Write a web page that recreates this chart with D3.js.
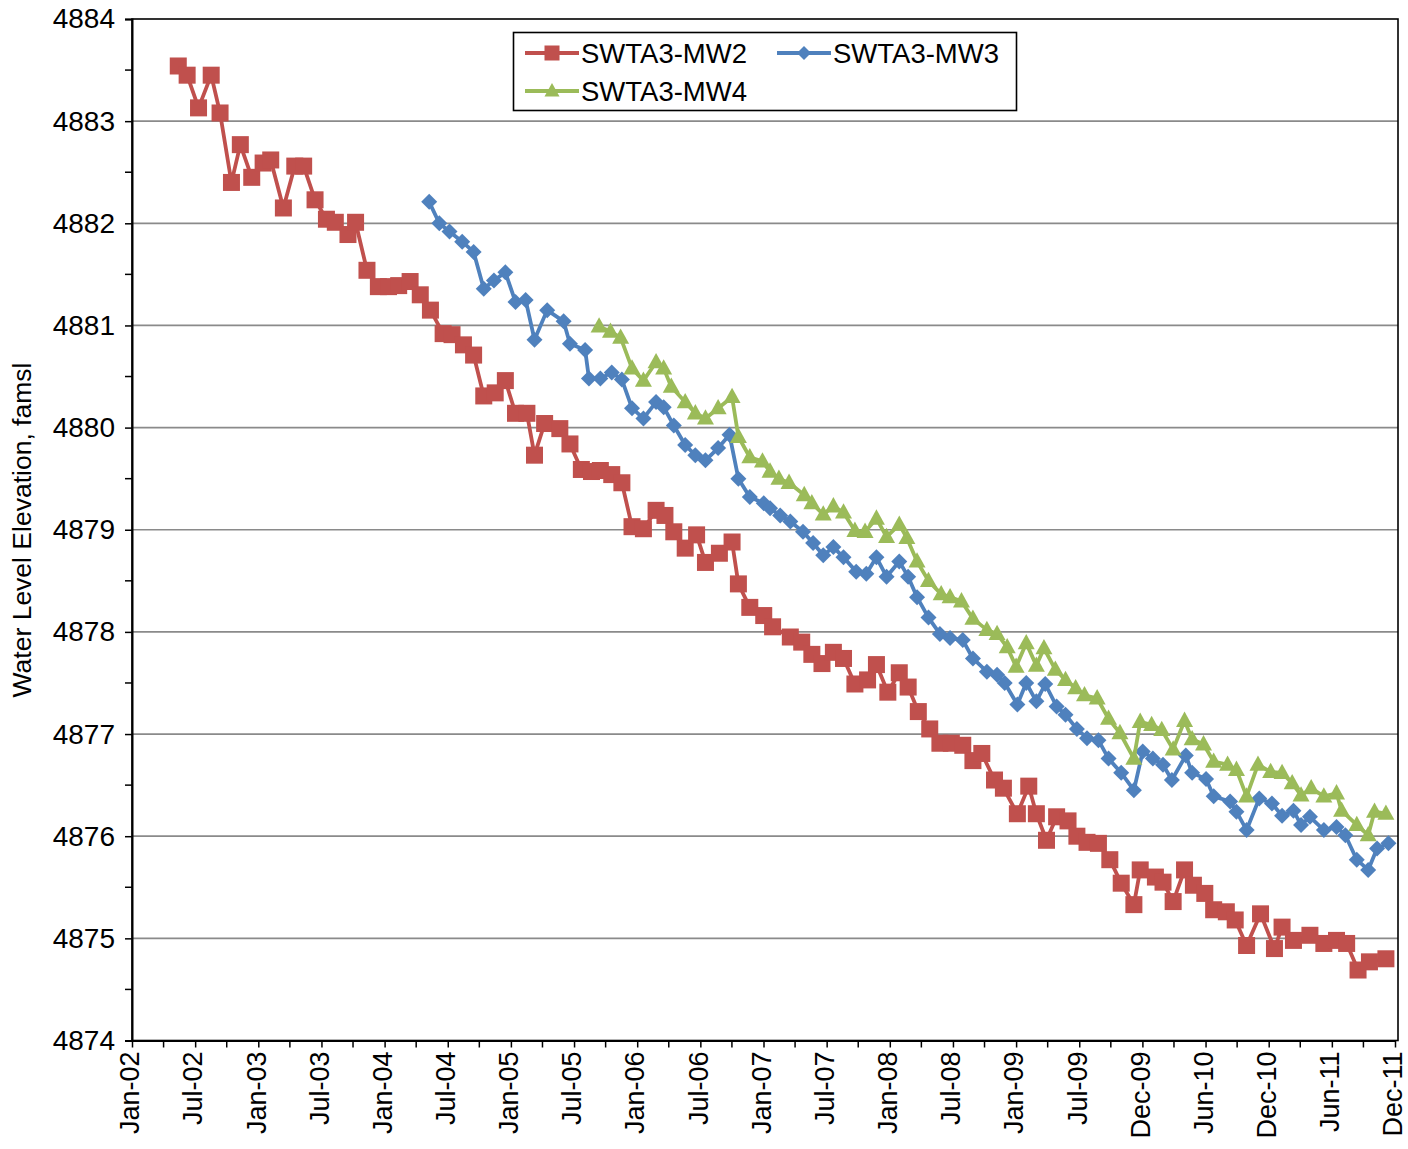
<!DOCTYPE html>
<html><head><meta charset="utf-8">
<script src="https://cdn.jsdelivr.net/npm/d3@7"></script>
<style>
body{margin:0;background:#fff}
text{font-family:Arial,"Liberation Sans",sans-serif;fill:#000}
</style>
</head><body>
<svg id="chart" width="1408" height="1149"></svg>
<script>
// ---------------- DATA ----------------
const xTickLabels = ["Jan-02","Jul-02","Jan-03","Jul-03","Jan-04","Jul-04","Jan-05","Jul-05","Jan-06","Jul-06","Jan-07","Jul-07","Jan-08","Jul-08","Jan-09","Jul-09","Dec-09","Jun-10","Dec-10","Jun-11","Dec-11"];
const yTicks = [4874,4875,4876,4877,4878,4879,4880,4881,4882,4883,4884];
const seriesNames = ["SWTA3-MW2","SWTA3-MW3","SWTA3-MW4"];

// sample times as decimal years
const mw2Years = [2002.39,2002.46,2002.55,2002.65,2002.72,2002.81,2002.88,2002.97,2003.06,2003.12,
2003.22,2003.31,2003.38,2003.47,2003.56,2003.63,2003.73,2003.79,2003.88,2003.97,
2004.05,2004.13,2004.22,2004.30,2004.38,2004.48,2004.55,2004.64,2004.72,2004.80,
2004.89,2004.97,2005.05,2005.14,2005.20,2005.28,2005.40,2005.48,2005.57,2005.65,
2005.72,2005.81,2005.89,2005.97,2006.06,2006.16,2006.23,2006.30,2006.39,2006.48,
2006.55,2006.66,2006.76,2006.81,2006.90,2007.01,2007.08,2007.22,2007.31,2007.39,
2007.47,2007.56,2007.64,2007.73,2007.83,2007.90,2007.99,2008.08,2008.15,2008.23,
2008.32,2008.40,2008.49,2008.58,2008.66,2008.73,2008.83,2008.90,2009.01,2009.10,
2009.16,2009.24,2009.32,2009.41,2009.48,2009.56,2009.65,2009.74,2009.83,2009.93,
2009.98,2010.10,2010.16,2010.24,2010.33,2010.40,2010.49,2010.56,2010.66,2010.73,
2010.82,2010.93,2011.04,2011.10,2011.19,2011.32,2011.43,2011.53,2011.61,2011.70,
2011.79,2011.92];
const mw2Levels = [4883.54,4883.45,4883.13,4883.45,4883.08,4882.40,4882.77,4882.45,4882.59,4882.62,
4882.15,4882.56,4882.56,4882.23,4882.04,4882.01,4881.89,4882.01,4881.54,4881.38,
4881.38,4881.39,4881.43,4881.30,4881.15,4880.92,4880.91,4880.81,4880.71,4880.31,
4880.34,4880.46,4880.14,4880.14,4879.73,4880.04,4879.99,4879.84,4879.59,4879.57,
4879.58,4879.54,4879.46,4879.03,4879.01,4879.19,4879.14,4878.98,4878.82,4878.95,
4878.68,4878.77,4878.88,4878.47,4878.24,4878.16,4878.05,4877.95,4877.90,4877.78,
4877.69,4877.80,4877.74,4877.49,4877.53,4877.68,4877.41,4877.60,4877.46,4877.22,
4877.05,4876.91,4876.91,4876.89,4876.74,4876.81,4876.55,4876.47,4876.22,4876.49,
4876.22,4875.96,4876.19,4876.15,4876.00,4875.94,4875.93,4875.77,4875.54,4875.33,
4875.67,4875.60,4875.55,4875.36,4875.67,4875.52,4875.44,4875.28,4875.26,4875.18,
4874.93,4875.24,4874.90,4875.11,4874.98,4875.03,4874.95,4874.98,4874.95,4874.69,
4874.77,4874.80];

const mw3Years = [2004.37,2004.45,2004.53,2004.63,2004.72,2004.80,2004.88,2004.97,2005.05,2005.13,
2005.20,2005.30,2005.43,2005.48,2005.60,2005.63,2005.72,2005.81,2005.89,2005.97,
2006.06,2006.16,2006.22,2006.30,2006.39,2006.47,2006.55,2006.65,2006.74,2006.81,
2006.90,2007.01,2007.06,2007.14,2007.22,2007.32,2007.40,2007.48,2007.56,2007.64,
2007.74,2007.82,2007.90,2007.98,2008.08,2008.15,2008.22,2008.31,2008.40,2008.48,
2008.58,2008.66,2008.77,2008.85,2008.91,2009.01,2009.08,2009.16,2009.23,2009.32,
2009.39,2009.48,2009.56,2009.65,2009.73,2009.83,2009.93,2010.00,2010.08,2010.16,
2010.23,2010.34,2010.39,2010.50,2010.56,2010.69,2010.74,2010.82,2010.92,2011.02,
2011.10,2011.19,2011.25,2011.32,2011.43,2011.53,2011.60,2011.69,2011.78,2011.85,
2011.94];
const mw3Levels = [4882.21,4882.00,4881.92,4881.82,4881.72,4881.36,4881.44,4881.52,4881.23,4881.25,
4880.86,4881.15,4881.04,4880.82,4880.76,4880.48,4880.48,4880.54,4880.47,4880.19,
4880.09,4880.25,4880.20,4880.02,4879.83,4879.73,4879.68,4879.80,4879.93,4879.50,
4879.32,4879.26,4879.21,4879.14,4879.08,4878.98,4878.87,4878.75,4878.83,4878.73,
4878.59,4878.57,4878.73,4878.54,4878.69,4878.54,4878.34,4878.14,4877.98,4877.94,
4877.92,4877.74,4877.61,4877.58,4877.50,4877.29,4877.50,4877.32,4877.49,4877.27,
4877.19,4877.05,4876.96,4876.94,4876.76,4876.62,4876.45,4876.83,4876.76,4876.70,
4876.55,4876.79,4876.62,4876.56,4876.39,4876.34,4876.24,4876.06,4876.37,4876.32,
4876.20,4876.25,4876.11,4876.19,4876.06,4876.09,4876.01,4875.77,4875.67,4875.88,
4875.93];

const mw4Years = [2005.71,2005.80,2005.88,2005.97,2006.06,2006.16,2006.22,2006.28,2006.39,2006.47,
2006.55,2006.65,2006.76,2006.81,2006.90,2007.00,2007.06,2007.13,2007.21,2007.33,
2007.39,2007.48,2007.56,2007.64,2007.73,2007.81,2007.90,2007.98,2008.08,2008.14,
2008.22,2008.31,2008.41,2008.48,2008.57,2008.66,2008.77,2008.85,2008.93,2009.00,
2009.08,2009.16,2009.22,2009.31,2009.39,2009.47,2009.54,2009.64,2009.73,2009.82,
2009.93,2009.98,2010.07,2010.15,2010.24,2010.33,2010.39,2010.48,2010.56,2010.67,
2010.74,2010.82,2010.91,2011.01,2011.10,2011.18,2011.25,2011.33,2011.43,2011.53,
2011.57,2011.69,2011.78,2011.83,2011.92];
const mw4Levels = [4880.99,4880.94,4880.88,4880.58,4880.46,4880.64,4880.58,4880.40,4880.25,4880.14,
4880.09,4880.19,4880.30,4879.91,4879.71,4879.67,4879.57,4879.50,4879.46,4879.34,
4879.26,4879.15,4879.23,4879.17,4878.99,4878.98,4879.11,4878.93,4879.05,4878.92,
4878.69,4878.50,4878.37,4878.34,4878.30,4878.13,4878.02,4877.98,4877.85,4877.66,
4877.89,4877.67,4877.84,4877.63,4877.53,4877.45,4877.38,4877.35,4877.15,4877.01,
4876.76,4877.12,4877.09,4877.04,4876.85,4877.13,4876.95,4876.90,4876.73,4876.70,
4876.65,4876.39,4876.70,4876.63,4876.62,4876.52,4876.40,4876.47,4876.39,4876.42,
4876.25,4876.11,4876.01,4876.24,4876.22];

// ---------------- CHART ----------------
function yearToDate(y){
  const yr = Math.floor(y);
  const s = new Date(yr,0,1), e = new Date(yr+1,0,1);
  return new Date(+s + (y-yr)*(e-s));
}
const axisStart = new Date(2002,0,10);
const stepDays = 182;
const axisEnd = d3.timeDay.offset(axisStart, stepDays*20);

const L = 132, R = 1398, T = 19, B = 1040.5;
const FONT = "Arial, 'Liberation Sans', sans-serif";
const svg = d3.select("#chart");
const x = d3.scaleTime().domain([axisStart, axisEnd]).range([L, 1395]);
const y = d3.scaleLinear().domain([4874,4884]).range([B, T]);

const colors = ["#C0504D","#4F81BD","#9BBB59"];
const series = [
  {name:seriesNames[0], color:colors[0], shape:"square",   pts:mw2Years.map((d,i)=>({date:yearToDate(d), v:mw2Levels[i]}))},
  {name:seriesNames[1], color:colors[1], shape:"diamond",  pts:mw3Years.map((d,i)=>({date:yearToDate(d), v:mw3Levels[i]}))},
  {name:seriesNames[2], color:colors[2], shape:"triangle", pts:mw4Years.map((d,i)=>({date:yearToDate(d), v:mw4Levels[i]}))}
];

// gridlines
svg.append("g").selectAll("line").data(yTicks.filter(t=>t>4874 && t<4884)).join("line")
  .attr("x1",L).attr("x2",R).attr("y1",d=>y(d)).attr("y2",d=>y(d))
  .attr("stroke","#8a8a8a").attr("stroke-width",1.7);

// plot border
svg.append("rect").attr("x",L).attr("y",T).attr("width",R-L).attr("height",B-T)
  .attr("fill","none").attr("stroke","#000").attr("stroke-width",1.6);

// y axis
const yMinor = d3.range(4874.5,4884,1);
const yAxis = d3.axisLeft(y).tickValues(yTicks).tickFormat(d3.format("d")).tickSize(7).tickPadding(10);
const gy = svg.append("g").attr("transform",`translate(${L},0)`).call(yAxis);
gy.select(".domain").attr("stroke","#000").attr("stroke-width",2);
gy.selectAll(".tick line").attr("stroke","#000").attr("stroke-width",1.5);
gy.selectAll(".tick text").attr("font-size",28).attr("font-family",FONT);
svg.append("g").selectAll("line").data(yMinor).join("line")
  .attr("x1",L-7).attr("x2",L).attr("y1",d=>y(d)).attr("y2",d=>y(d))
  .attr("stroke","#000").attr("stroke-width",1.5);

// x axis
const xTickDates = d3.range(21).map(k=>d3.timeDay.offset(axisStart, k*stepDays));
const xMinorDates = d3.range(20).map(k=>d3.timeDay.offset(axisStart, k*stepDays + stepDays/2));
const xAxis = d3.axisBottom(x).tickValues(xTickDates).tickFormat((d,i)=>xTickLabels[i]).tickSize(7).tickSizeOuter(0);
const gx = svg.append("g").attr("transform",`translate(0,${B})`).call(xAxis);
gx.select(".domain").attr("stroke","#000").attr("stroke-width",2);
gx.selectAll(".tick line").attr("stroke","#000").attr("stroke-width",1.5);
gx.selectAll(".tick text")
  .attr("font-size",27).attr("font-family",FONT)
  .attr("text-anchor","end").attr("transform","rotate(-90)")
  .attr("x",-11).attr("y",0).attr("dy","0.25em");
svg.append("g").selectAll("line").data(xMinorDates).join("line")
  .attr("x1",d=>x(d)).attr("x2",d=>x(d)).attr("y1",B).attr("y2",B+7)
  .attr("stroke","#000").attr("stroke-width",1.5);

// y title
svg.append("text").attr("transform","translate(22,530) rotate(-90)")
  .attr("text-anchor","middle").attr("dy","0.35em").attr("font-size",26.5)
  .attr("font-family",FONT)
  .text("Water Level Elevation, famsl");

// markers
function marker(g, shape, color, size){
  if(shape==="square"){
    g.append("rect").attr("x",-size/2).attr("y",-size/2).attr("width",size).attr("height",size).attr("fill",color);
  } else if(shape==="diamond"){
    const h=size/2;
    g.append("path").attr("d",`M0,${-h}L${h},0L0,${h}L${-h},0Z`).attr("fill",color);
  } else {
    const w=size/2, hh=size*0.9;
    g.append("path").attr("d",`M0,${-hh*0.6}L${w},${hh*0.4}L${-w},${hh*0.4}Z`).attr("fill",color);
  }
}
const line = d3.line().x(d=>x(d.date)).y(d=>y(d.v));
const markerSize = {square:17, diamond:16, triangle:17};
series.forEach(s=>{
  const g = svg.append("g");
  g.append("path").datum(s.pts).attr("d",line).attr("fill","none")
    .attr("stroke",s.color).attr("stroke-width",3.8).attr("stroke-linejoin","round");
  g.selectAll("g.m").data(s.pts).join("g").attr("class","m")
    .attr("transform",d=>`translate(${x(d.date)},${y(d.v)})`)
    .each(function(){ marker(d3.select(this), s.shape, s.color, markerSize[s.shape]); });
});

// legend
const lg = svg.append("g");
lg.append("rect").attr("x",513.5).attr("y",32.5).attr("width",503).attr("height",78)
  .attr("fill","#fff").attr("stroke","#000").attr("stroke-width",1.6);
const legendPos = [{x:525,y:53},{x:777,y:53},{x:525,y:91}];
series.forEach((s,i)=>{
  const p = legendPos[i];
  const g = lg.append("g");
  g.append("line").attr("x1",p.x).attr("x2",p.x+54).attr("y1",p.y).attr("y2",p.y)
    .attr("stroke",s.color).attr("stroke-width",3.8);
  const m = g.append("g").attr("transform",`translate(${p.x+27},${p.y})`);
  marker(m, s.shape, s.color, s.shape==="diamond"?14:15);
  g.append("text").attr("x",p.x+56).attr("y",p.y).attr("dy","0.35em").attr("font-size",27.5)
    .attr("font-family",FONT).text(s.name);
});
</script>
</body></html>
